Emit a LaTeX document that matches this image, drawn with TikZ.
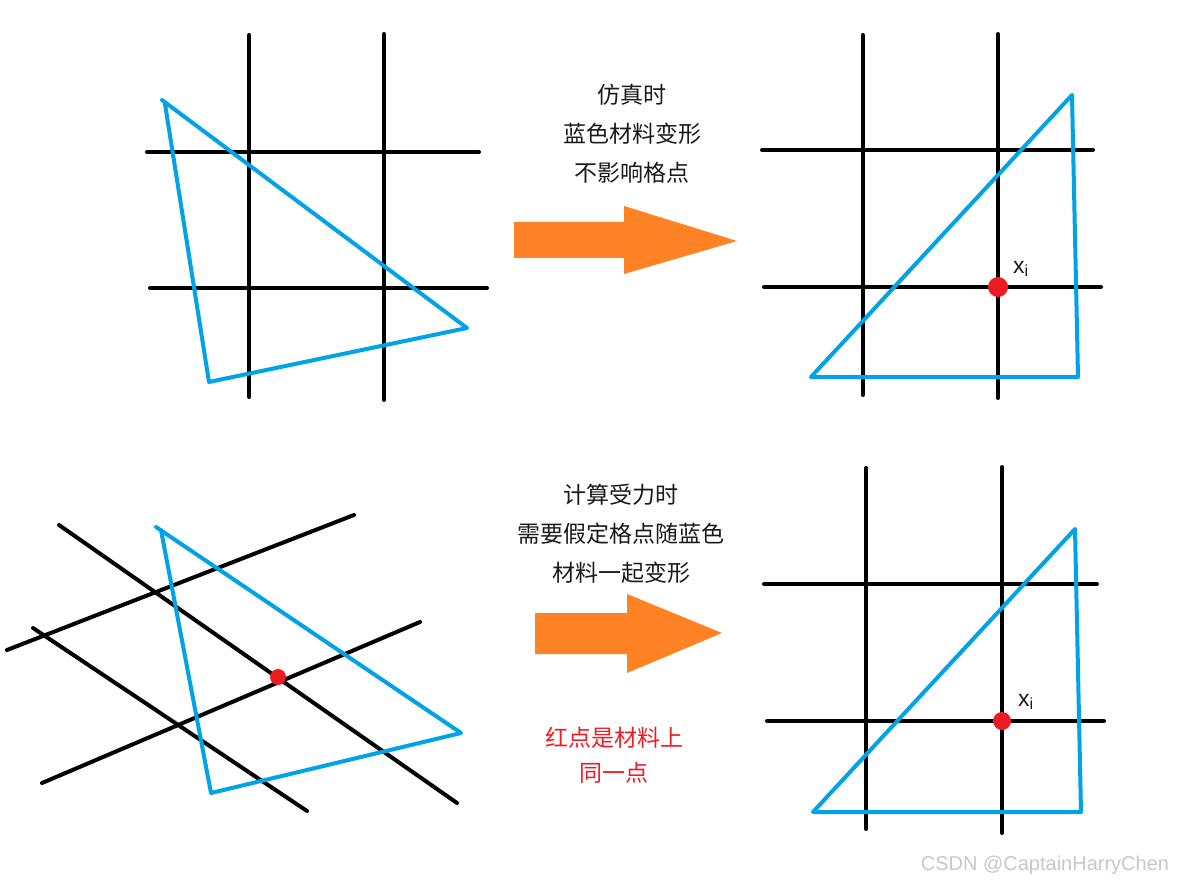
\documentclass[tikz,border=0pt]{standalone}
\usepackage{fontspec}
\setmainfont{Liberation Sans}
\newfontfamily\cjk{Noto Sans CJK SC}
\usetikzlibrary{positioning,calc}
\definecolor{ink}{HTML}{1A1A1A}
\definecolor{paintblue}{HTML}{00A2E8}
\definecolor{paintred}{HTML}{ED1C24}
\definecolor{orange}{HTML}{FF8224}
\definecolor{mark}{HTML}{C8C8C8}
\tikzset{
  gridline/.style={draw=black, line width=4pt, line cap=round},
  mesh/.style={draw=paintblue, line width=4pt, line cap=round, line join=round},
  point/.style={circle, fill=paintred, inner sep=0pt, minimum size=#1},
  point/.default=20pt,
  remark/.style={font=\cjk\fontsize{23}{39}\selectfont, text=ink, align=center, inner sep=0pt},
  redremark/.style={remark, font=\cjk\fontsize{23}{35}\selectfont, text=paintred},
  bigarrow/.style={fill=orange},
  ptlabel/.style={font=\fontsize{23}{23}\selectfont, text=ink, inner sep=0pt},
  credit/.style={font=\fontsize{20}{20}\selectfont, text=mark, inner sep=0pt}
}
\begin{document}
\begin{tikzpicture}[x=1pt, y=-1pt]
\fill[white] (0,0) rectangle (1178,885);
\useasboundingbox (0,0) rectangle (1178,885);
% top left: grid before deformation
\draw[gridline] (249,35)--(249,397);
\draw[gridline] (384,34)--(384,400);
\draw[gridline] (147,152)--(479,152);
\draw[gridline] (150,288)--(487,288);
\coordinate (tl1) at (162,100);
\coordinate (tl2) at (467,328);
\coordinate (tl3) at (209,382);
\draw[mesh] ($(tl1)+(3,4)$)--(tl3)--(tl2)--(tl1);
% top right: grid stays, material moves
\draw[gridline] (863,35)--(863,395);
\draw[gridline] (998,34)--(998,398);
\draw[gridline] (762,150)--(1093,150);
\draw[gridline] (764,287)--(1101,287);
\coordinate (tr1) at (811,377);
\coordinate (tr2) at (1072,95);
\coordinate (tr3) at (1078,377);
\draw[mesh] (tr1)--(tr2)--(tr3)--cycle;
\node[point] (xtop) at (998,287) {};
\node[ptlabel] (xtoplabel) at (1021,269) {x\textsubscript{i}};
% bottom left: grid deformed with the material
\draw[gridline] (7,650)--(354,515);
\draw[gridline] (42,783)--(420,622);
\draw[gridline] (59,525)--(457,803);
\draw[gridline] (33,628)--(307,811);
\coordinate (bl1) at (156,527);
\coordinate (bl2) at (461,733);
\coordinate (bl3) at (211,793);
\draw[mesh] ($(bl1)+(5,3)$)--(bl3)--(bl2)--(bl1);
\node[point=16pt] (xmat) at (278,677) {};
% bottom right
\draw[gridline] (866,468)--(866,829);
\draw[gridline] (1002,467)--(1002,833);
\draw[gridline] (764,584)--(1097,584);
\draw[gridline] (767,721)--(1104,721);
\coordinate (br1) at (813,812);
\coordinate (br2) at (1075,529);
\coordinate (br3) at (1081,812);
\draw[mesh] (br1)--(br2)--(br3)--cycle;
\node[point=18pt] (xbot) at (1002,721) {};
\node[ptlabel] (xbotlabel) at (1026,702) {x\textsubscript{i}};
% arrows and notes
\fill[bigarrow] (514,222)--(624,222)--(624,206)--(737,241)--(624,274)--(624,258)--(514,258)--cycle;
\fill[bigarrow] (535,613)--(627,613)--(627,594)--(722,633)--(627,673)--(627,654)--(535,654)--cycle;
\node[remark] (simnote) at (632,134) {仿真时\\蓝色材料变形\\不影响格点};
\node[remark] (forcenote) at (621,534) {计算受力时\\需要假定格点随蓝色\\材料一起变形};
\node[redremark] (samenote) at (614,755) {红点是材料上\\同一点};
\node[credit] (src) at (1045,865) {CSDN @CaptainHarryChen};
\end{tikzpicture}
\end{document}
